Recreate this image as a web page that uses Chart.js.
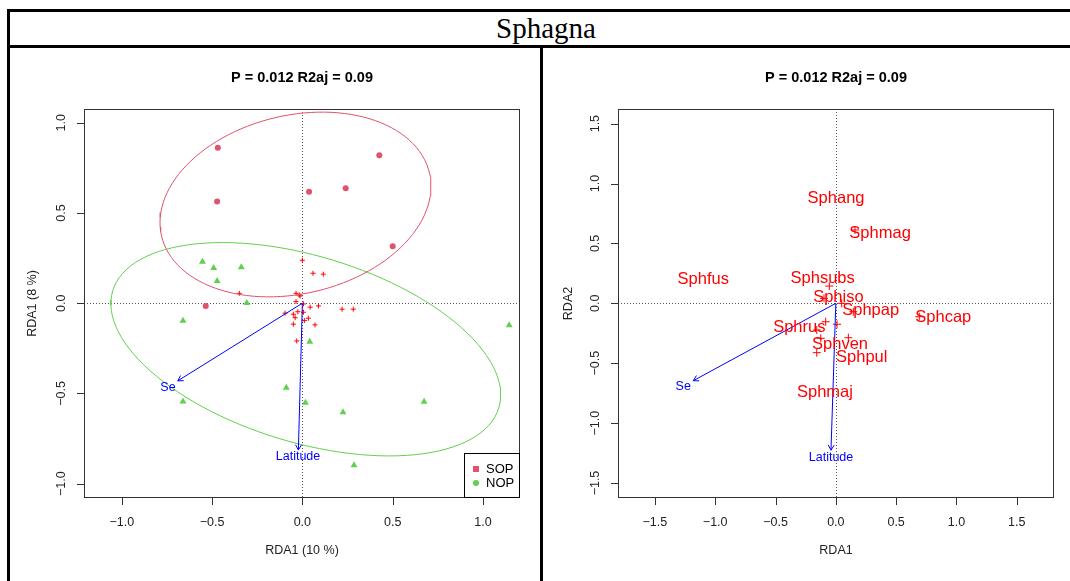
<!DOCTYPE html>
<html>
<head>
<meta charset="utf-8">
<script src="https://cdn.jsdelivr.net/npm/chart.js@4/dist/chart.umd.min.js"></script>
<style>
    body { margin: 0; width: 1070px; height: 581px; overflow: hidden; background: #fff; position: relative; }
    #frame { position: absolute; left: 7px; top: 9px; width: 1080px; height: 620px; border: 3px solid #000; }
    #rule { position: absolute; left: 7px; top: 45px; width: 1090px; height: 3px; background: #000; }
    #divider { position: absolute; left: 540px; top: 46px; width: 3px; height: 560px; background: #000; }
    #title { position: absolute; left: 10px; top: 12px; width: 1072px; height: 33px; line-height: 33px;
             text-align: center; font-family: "Liberation Serif", "Times New Roman", serif; font-size: 29px; color: #000; }
    canvas { position: absolute; left: 0; top: 0; }
</style>
</head>
<body>
<div id="frame"></div>
<div id="rule"></div>
<div id="divider"></div>
<div id="title">Sphagna</div>
<canvas id="leftChart" width="1070" height="581"></canvas>
<canvas id="rightChart" width="1070" height="581"></canvas>
<script>
// ---- left panel: site scores ----
const sopX = [-0.468, 0.426, 0.037, 0.240, -0.472, 0.500, -0.535];
const sopY = [0.862, 0.820, 0.618, 0.637, 0.563, 0.316, -0.015];
const nopX = [-0.553, -0.491, -0.338, -0.472, -0.308, -0.661, 1.145, 0.041, -0.089, -0.661, 0.017, 0.225, 0.674, 0.286];
const nopY = [0.230, 0.195, 0.199, 0.123, 0.001, -0.097, -0.122, -0.213, -0.468, -0.544, -0.551, -0.604, -0.546, -0.898];
const spLeftX = [0.000, 0.059, 0.116, -0.349, -0.035, -0.017, -0.013, -0.035, 0.006, 0.043, 0.089, 0.220, 0.282,
                 -0.096, -0.050, -0.040, -0.025, 0.006, 0.033, 0.011, -0.050, 0.070, -0.031];
const spLeftY = [0.238, 0.166, 0.161, 0.055, 0.055, 0.046, 0.040, 0.009, -0.004, -0.022, -0.015, -0.033, -0.033,
                 -0.055, -0.061, -0.080, -0.047, -0.050, -0.083, -0.096, -0.116, -0.120, -0.209];
// ellipses: centre, semi-axes, angle (rad)
const sopEllipse = { c: [-0.038, 0.547], ax: [0.762, 0.494], ang: 0.232 };
const nopEllipse = { c: [0.019, -0.255], ax: [1.117, 0.516], ang: -0.295 };
const groups = ['SOP', 'NOP'];

// ---- right panel: species scores ----
const crossX = [0.159, -0.054, -0.098, 0.049, 0.145, 0.692, -0.084, 0.010, -0.158, -0.125, 0.104, -0.158];
const crossY = [0.612, 0.144, 0.042, 0.000, -0.070, -0.112, -0.154, -0.175, -0.223, -0.292, -0.287, -0.412];
const spNames = ['Sphang', 'Sphmag', 'Sphfus', 'Sphsubs', 'Sphiso', 'Sphpap', 'Sphcap', 'Sphrus', 'Sphven', 'Sphpul', 'Sphmaj'];
const spLabX = [0.002, 0.367, -1.099, -0.109, 0.021, 0.289, 0.891, -0.303, 0.035, 0.215, -0.090];
const spLabY = [0.876, 0.584, 0.200, 0.205, 0.047, -0.056, -0.120, -0.200, -0.346, -0.454, -0.746];

// ---- environmental arrows ----
const envNames = ['Se', 'Latitude'];
const envLeftX = [-0.690, -0.022], envLeftY = [-0.430, -0.813];
const envLeftLabX = [-0.744, -0.024], envLeftLabY = [-0.465, -0.850];
const envRightX = [-1.182, -0.040], envRightY = [-0.646, -1.226];
const envRightLabX = [-1.265, -0.040], envRightLabY = [-0.696, -1.285];

// ---- axes ----
const leftTicks = [-1, -0.5, 0, 0.5, 1];
const leftTickLabels = ['\u22121.0', '\u22120.5', '0.0', '0.5', '1.0'];
const rightTicks = [-1.5, -1, -0.5, 0, 0.5, 1, 1.5];
const rightTickLabels = ['\u22121.5', '\u22121.0', '\u22120.5', '0.0', '0.5', '1.0', '1.5'];
const panelTitle = 'P = 0.012 R2aj = 0.09';

const FONT = '"Liberation Sans", Arial, sans-serif';
const SOP_COL = '#DF536B', NOP_COL = '#61D04F';

Chart.defaults.devicePixelRatio = 1;

function ellipsePoints(e) {
    const pts = [];
    for (let i = 0; i <= 120; i++) {
        const t = i / 120 * 2 * Math.PI;
        const u = e.ax[0] * Math.cos(t), v = e.ax[1] * Math.sin(t);
        pts.push({ x: e.c[0] + u * Math.cos(e.ang) - v * Math.sin(e.ang),
                   y: e.c[1] + u * Math.sin(e.ang) + v * Math.cos(e.ang) });
    }
    return pts;
}

function zip(xs, ys) {
    return xs.map((x, i) => ({ x: x, y: ys[i] }));
}

function drawArrow(ctx, x1, y1, x2, y2) {
    const ang = Math.atan2(y2 - y1, x2 - x1), L = 6, s = Math.PI / 6;
    ctx.beginPath();
    ctx.moveTo(x1, y1);
    ctx.lineTo(x2, y2);
    ctx.moveTo(x2 - L * Math.cos(ang - s), y2 - L * Math.sin(ang - s));
    ctx.lineTo(x2, y2);
    ctx.lineTo(x2 - L * Math.cos(ang + s), y2 - L * Math.sin(ang + s));
    ctx.stroke();
}

// R-style frame, ticks, arrows and text
function rPlot(cfg) {
    return {
        id: 'rPlot',
        beforeDatasetsDraw(chart) {
            const { ctx, chartArea: a, scales: { x, y } } = chart;
            const x0 = Math.round(x.getPixelForValue(0)) + 0.5;
            const y0 = Math.round(y.getPixelForValue(0)) + 0.5;
            ctx.save();
            ctx.strokeStyle = '#555';
            ctx.lineWidth = 1;
            ctx.setLineDash([1, 2]);
            ctx.beginPath();
            ctx.moveTo(x0, a.top); ctx.lineTo(x0, a.bottom);
            ctx.moveTo(a.left, y0); ctx.lineTo(a.right, y0);
            ctx.stroke();
            ctx.restore();
        },
        afterDatasetsDraw(chart) {
            const { ctx, chartArea: a, scales: { x, y } } = chart;
            ctx.save();

            // environmental arrows
            ctx.strokeStyle = '#0000FF';
            ctx.lineWidth = 1;
            const ox = x.getPixelForValue(0), oy = y.getPixelForValue(0);
            cfg.envX.forEach((v, i) => drawArrow(ctx, ox, oy, x.getPixelForValue(v), y.getPixelForValue(cfg.envY[i])));
            ctx.fillStyle = '#0000FF';
            ctx.font = '12.5px ' + FONT;
            ctx.textAlign = 'center';
            ctx.textBaseline = 'middle';
            envNames.forEach((n, i) => ctx.fillText(n, x.getPixelForValue(cfg.labX[i]), y.getPixelForValue(cfg.labY[i])));

            // species names
            if (cfg.species) {
                ctx.fillStyle = '#FF0000';
                ctx.font = '16.5px ' + FONT;
                spNames.forEach((n, i) => ctx.fillText(n, x.getPixelForValue(spLabX[i]), y.getPixelForValue(spLabY[i])));
            }

            // box
            ctx.strokeStyle = '#333';
            ctx.lineWidth = 1;
            ctx.strokeRect(a.left + 0.5, a.top + 0.5, a.width - 1, a.height - 1);

            // ticks
            ctx.beginPath();
            cfg.ticks.forEach(t => {
                const px = Math.round(x.getPixelForValue(t)) + 0.5;
                ctx.moveTo(px, a.bottom); ctx.lineTo(px, a.bottom + 7);
                const py = Math.round(y.getPixelForValue(t)) + 0.5;
                ctx.moveTo(a.left, py); ctx.lineTo(a.left - 7, py);
            });
            ctx.stroke();

            ctx.fillStyle = '#222';
            ctx.font = '12.5px ' + FONT;
            cfg.ticks.forEach((t, i) => {
                ctx.fillText(cfg.tickLabels[i], x.getPixelForValue(t), a.bottom + 25);
                ctx.save();
                ctx.translate(a.left - 22, y.getPixelForValue(t));
                ctx.rotate(-Math.PI / 2);
                ctx.fillText(cfg.tickLabels[i], 0, 0);
                ctx.restore();
            });

            // axis titles
            ctx.fillText(cfg.xTitle, (a.left + a.right) / 2, a.bottom + 53);
            ctx.save();
            ctx.translate(a.left - cfg.yTitleOff, (a.top + a.bottom) / 2);
            ctx.rotate(-Math.PI / 2);
            ctx.fillText(cfg.yTitle, 0, 0);
            ctx.restore();

            // panel title
            ctx.fillStyle = '#000';
            ctx.font = 'bold 14.5px ' + FONT;
            ctx.fillText(panelTitle, (a.left + a.right) / 2, 78);

            // legend
            if (cfg.legend) {
                const lx = a.right - 56, ly = a.bottom - 45;
                ctx.fillStyle = '#fff';
                ctx.fillRect(lx, ly, 56, 45);
                ctx.strokeStyle = '#000';
                ctx.strokeRect(lx + 0.5, ly + 0.5, 55, 44);
                ctx.fillStyle = SOP_COL;
                ctx.fillRect(lx + 9, ly + 13, 6, 6);
                ctx.fillStyle = NOP_COL;
                ctx.beginPath();
                ctx.arc(lx + 12, ly + 30, 3, 0, 2 * Math.PI);
                ctx.fill();
                ctx.fillStyle = '#000';
                ctx.font = '13px ' + FONT;
                ctx.textAlign = 'left';
                ctx.fillText(groups[0], lx + 22, ly + 16);
                ctx.fillText(groups[1], lx + 22, ly + 30);
            }
            ctx.restore();
        }
    };
}

function baseOptions(pad, xr, yr) {
    return {
        responsive: false,
        animation: false,
        events: [],
        layout: { padding: pad },
        plugins: { legend: { display: false }, tooltip: { enabled: false } },
        scales: {
            x: { type: 'linear', min: xr[0], max: xr[1], display: false },
            y: { type: 'linear', min: yr[0], max: yr[1], display: false }
        }
    };
}

new Chart(document.getElementById('leftChart'), {
    type: 'scatter',
    data: {
        datasets: [
            { data: ellipsePoints(sopEllipse), showLine: true, pointRadius: 0, borderColor: SOP_COL, borderWidth: 1, tension: 0 },
            { data: ellipsePoints(nopEllipse), showLine: true, pointRadius: 0, borderColor: NOP_COL, borderWidth: 1, tension: 0 },
            { data: zip(sopX, sopY), pointStyle: 'circle', pointRadius: 3, backgroundColor: SOP_COL, borderColor: SOP_COL, borderWidth: 0 },
            { data: zip(nopX, nopY), pointStyle: 'triangle', pointRadius: 4, backgroundColor: NOP_COL, borderColor: NOP_COL, borderWidth: 0 },
            { data: zip(spLeftX, spLeftY), pointStyle: 'cross', pointRadius: 2.5, borderColor: '#FF0000', borderWidth: 1 }
        ]
    },
    options: baseOptions({ left: 84, top: 109, right: 550, bottom: 83 }, [-1.209, 1.205], [-1.079, 1.076]),
    plugins: [rPlot({
        envX: envLeftX, envY: envLeftY, labX: envLeftLabX, labY: envLeftLabY,
        ticks: leftTicks, tickLabels: leftTickLabels,
        xTitle: 'RDA1 (10 %)', yTitle: 'RDA1 (8 %)', yTitleOff: 51,
        legend: true, species: false
    })]
});

new Chart(document.getElementById('rightChart'), {
    type: 'scatter',
    data: {
        datasets: [
            { data: zip(crossX, crossY), pointStyle: 'cross', pointRadius: 4, borderColor: '#FF0000', borderWidth: 1 }
        ]
    },
    options: baseOptions({ left: 618, top: 109, right: 16, bottom: 83 }, [-1.806, 1.809], [-1.625, 1.622]),
    plugins: [rPlot({
        envX: envRightX, envY: envRightY, labX: envRightLabX, labY: envRightLabY,
        ticks: rightTicks, tickLabels: rightTickLabels,
        xTitle: 'RDA1', yTitle: 'RDA2', yTitleOff: 49,
        legend: false, species: true
    })]
});
</script>
</body>
</html>
